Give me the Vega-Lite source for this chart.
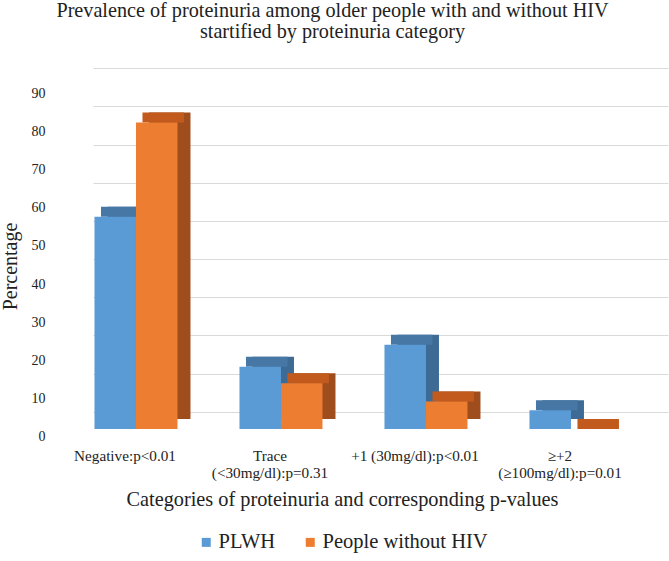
{
  "$schema": "https://vega.github.io/schema/vega-lite/v6.json",
  "width": 575,
  "height": 372,
  "autosize": {"type": "none"},
  "padding": {"left": 93, "top": 57, "right": 1, "bottom": 132},
  "background": "#ffffff",
  "config": {
    "view": {"stroke": null},
    "font": "Liberation Serif, DejaVu Serif, serif",
    "text": {"font": "Liberation Serif, DejaVu Serif, serif"},
    "legend": {"labelFont": "Liberation Serif, DejaVu Serif, serif", "labelLimit": 0}
  },
  "data": {
    "values": [
      {"category": "Negative:p<0.01", "group": "PLWH", "value": 55.6},
      {"category": "Negative:p<0.01", "group": "People without HIV", "value": 80.3},
      {"category": "Trace|(<30mg/dl):p=0.31", "group": "PLWH", "value": 16.3},
      {"category": "Trace|(<30mg/dl):p=0.31", "group": "People without HIV", "value": 12.0},
      {"category": "+1 (30mg/dl):p<0.01", "group": "PLWH", "value": 22.1},
      {"category": "+1 (30mg/dl):p<0.01", "group": "People without HIV", "value": 7.2},
      {"category": "≥+2|(≥100mg/dl):p=0.01", "group": "PLWH", "value": 4.9},
      {"category": "≥+2|(≥100mg/dl):p=0.01", "group": "People without HIV", "value": 0}
    ]
  },
  "layer": [
    {
      "mark": {"type": "bar", "opacity": 0},
      "encoding": {
        "x": {
          "field": "category",
          "type": "nominal",
          "sort": null,
          "scale": {"paddingInner": 0.4276, "paddingOuter": 0.1966, "align": 0.026},
          "axis": {
            "orient": "top",
            "title": ["Prevalence of proteinuria among older people with and without HIV", "startified by proteinuria category"],
            "titleFont": "Liberation Serif, DejaVu Serif, serif",
            "titleFontSize": 20.2,
            "titleFontWeight": "normal",
            "titleColor": "#222222",
            "titleLineHeight": 21.5,
            "titleLimit": 700,
            "titleX": 239,
            "titleY": -41,
            "titleAlign": "center",
            "titleBaseline": "alphabetic",
            "labels": false,
            "domain": false,
            "ticks": false,
            "grid": false
          }
        },
        "y": {
          "field": "value",
          "type": "quantitative",
          "scale": {"domain": [-4.53, 92.97], "nice": false, "zero": false},
          "axis": {
            "orient": "right",
            "title": null,
            "values": [0, 10, 20, 30, 40, 50, 60, 70, 80, 90],
            "grid": true,
            "gridColor": "#d9d9d9",
            "gridWidth": 1.2,
            "labels": false,
            "ticks": false,
            "domain": false
          }
        }
      }
    },
    {
      "encoding": {
        "x": {
          "field": "category",
          "type": "nominal",
          "sort": null,
          "scale": {"paddingInner": 0.4276, "paddingOuter": 0.1966, "align": 0.026},
          "axis": {
            "orient": "bottom",
            "title": "Categories of proteinuria and corresponding p-values",
            "titleFont": "Liberation Serif, DejaVu Serif, serif",
            "titleFontSize": 20.3,
            "titleFontWeight": "normal",
            "titleColor": "#222222",
            "titleX": 249,
            "titleY": 76,
            "titleAlign": "center",
            "titleBaseline": "alphabetic",
            "labelExpr": "split(datum.label, '|')",
            "labelFont": "Liberation Serif, DejaVu Serif, serif",
            "labelFontSize": 15.2,
            "labelColor": "#222222",
            "labelLineHeight": 17,
            "labelAngle": 0,
            "labelPadding": 19,
            "labelOffset": -11,
            "labelLimit": 0,
            "domain": false,
            "ticks": false,
            "tickSize": 0,
            "grid": false
          }
        },
        "y": {
          "field": "value",
          "type": "quantitative",
          "scale": {"domain": [0, 97.5], "nice": false},
          "axis": {
            "title": "Percentage",
            "titleFont": "Liberation Serif, DejaVu Serif, serif",
            "titleFontSize": 20,
            "titleFontWeight": "normal",
            "titleColor": "#222222",
            "titleX": -83,
            "titleY": 209,
            "titleAngle": -90,
            "titleAlign": "center",
            "titleBaseline": "middle",
            "values": [0, 10, 20, 30, 40, 50, 60, 70, 80, 90],
            "labelFont": "Liberation Serif, DejaVu Serif, serif",
            "labelFontSize": 14,
            "labelColor": "#222222",
            "labelPadding": 48,
            "labelOffset": 7.7,
            "grid": false,
            "ticks": false,
            "tickSize": 0,
            "domain": false
          }
        }
      },
      "layer": [
        {
          "mark": {"type": "bar", "yOffset": -10, "y2Offset": -10},
          "encoding": {
            "xOffset": {"field": "group", "type": "nominal", "sort": ["PLWH", "People without HIV"], "scale": {"range": [13, 96]}},
            "color": {
              "field": "group",
              "type": "nominal",
              "scale": {"domain": ["PLWH", "People without HIV"], "range": ["#3e6b96", "#a04d1e"]},
              "legend": null
            }
          }
        },
        {
          "mark": {"type": "bar", "yOffset": -10},
          "encoding": {
            "xOffset": {"field": "group", "type": "nominal", "sort": ["PLWH", "People without HIV"], "scale": {"range": [6.5, 89.5]}},
            "y2": {"field": "value"},
            "color": {
              "field": "group",
              "type": "nominal",
              "scale": {"domain": ["PLWH", "People without HIV"], "range": ["#4677a5", "#c25a1e"]},
              "legend": null
            }
          }
        },
        {
          "mark": {"type": "bar"},
          "encoding": {
            "xOffset": {"field": "group", "type": "nominal", "sort": ["PLWH", "People without HIV"], "scale": {"range": [0, 83]}},
            "color": {
              "field": "group",
              "type": "nominal",
              "scale": {"domain": ["PLWH", "People without HIV"], "range": ["#5b9bd5", "#ed7d31"]},
              "legend": {
                "title": null,
                "orient": "none",
                "legendX": 103,
                "legendY": 475,
                "direction": "horizontal",
                "symbolType": "square",
                "symbolSize": 81,
                "symbolStrokeWidth": 0,
                "labelFont": "Liberation Serif, DejaVu Serif, serif",
                "labelFontSize": 20.5,
                "labelLimit": 0,
                "labelColor": "#222222",
                "labelOffset": 2,
                "columnPadding": 24
              }
            }
          }
        }
      ],
      "resolve": {"scale": {"color": "independent", "xOffset": "independent"}, "legend": {"color": "independent"}}
    }
  ],
  "resolve": {"scale": {"y": "independent"}, "axis": {"y": "independent", "x": "independent"}}
}
